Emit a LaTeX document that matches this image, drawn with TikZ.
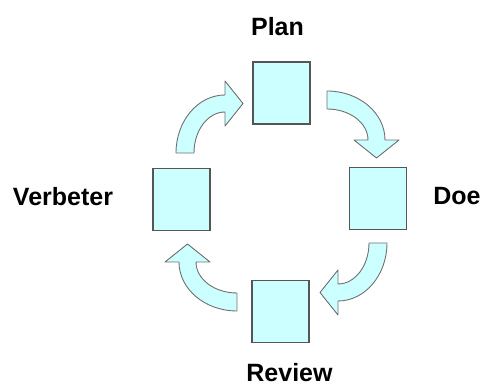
\documentclass[tikz,border=0pt]{standalone}
\usepackage{fontspec}
\setsansfont{Liberation Sans}
\usepackage{xcolor}
\definecolor{stagefill}{HTML}{CCFFFF}
\definecolor{stageedge}{HTML}{555555}
\definecolor{arrowedge}{HTML}{707070}
\tikzset{
  stage/.style={draw=stageedge, fill=stagefill, line width=1.5pt,
    minimum width=57pt, minimum height=62pt, inner sep=0pt},
  stagename/.style={font=\sffamily\bfseries\fontsize{25}{30}\selectfont, anchor=base, inner sep=0pt},
  cyclearrow/.style={draw=arrowedge, fill=stagefill, line width=0.9pt, line join=round}
}

\begin{document}
\begin{tikzpicture}[x=1pt,y=1pt]
\useasboundingbox (0,0) rectangle (483,387);

\node[stage] (plan) at (281.5,294) {};
\node[stage] (doe) at (378,188.5) {};
\node[stage] (review) at (280.5,75.5) {};
\node[stage] (verbeter) at (181.5,187.5) {};

\node[stagename] (plantext) at (277.5,351) {Plan};
\node[stagename] (doetext) at (457,182) {Doe};
\node[stagename] (reviewtext) at (289.5,5) {Review};
\node[stagename] (verbetertext) at (63,181) {Verbeter};

% curved arrows, one per quarter
\foreach \ang/\cx/\cy in {0/225/234, -90/327/247, -180/338/144, -270/237/125} {
  \begin{scope}[shift={(\cx,\cy)}, rotate=\ang]
    \filldraw[cyclearrow] (-49,0)
      arc[start angle=180, end angle=90, x radius=49pt, y radius=58pt]
      -- (0,72) -- (18,49.5) -- (0,27) -- (0,41)
      arc[start angle=90, end angle=180, x radius=31pt, y radius=41pt]
      -- cycle;
  \end{scope}
}
\end{tikzpicture}
\end{document}
